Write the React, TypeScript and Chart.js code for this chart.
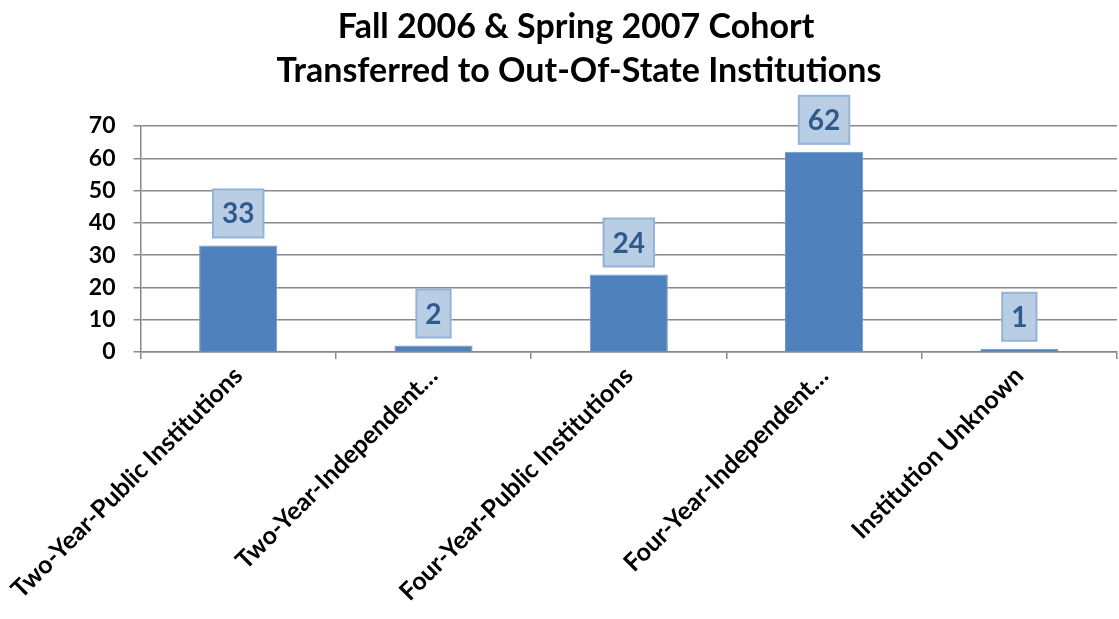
import React, { useEffect, useRef } from "react";
import { Chart, registerables } from "chart.js";

Chart.register(...registerables);

const titleLines = ["Fall 2006 & Spring 2007 Cohort", "Transferred to Out-Of-State Institutions"];
const categories = [
  "Two-Year-Public Institutions",
  "Two-Year-Independent…",
  "Four-Year-Public Institutions",
  "Four-Year-Independent…",
  "Institution Unknown",
];
const values = [33, 2, 24, 62, 1];
const yTicks = [0, 10, 20, 30, 40, 50, 60, 70];

const FONT = "Lato, 'Open Sans', sans-serif";

const titlePlugin = {
  id: "customTitle",
  afterDraw(chart: any) {
    const ctx = chart.ctx;
    ctx.save();
    ctx.font = `bold 34px ${FONT}`;
    ctx.fillStyle = "#000";
    ctx.textAlign = "center";
    ctx.textBaseline = "middle";
    ctx.fillText(titleLines[0], 576, 27);
    ctx.fillText(titleLines[1], 579, 71);
    ctx.restore();
  },
};

const labelPlugin = {
  id: "boxLabels",
  afterDatasetsDraw(chart: any) {
    const ctx = chart.ctx;
    const meta = chart.getDatasetMeta(0);
    ctx.save();
    ctx.font = `bold 28px ${FONT}`;
    meta.data.forEach((bar: any, i: number) => {
      const text = String(values[i]);
      const tw = ctx.measureText(text).width;
      const w = tw + 18;
      const h = 48;
      const x = bar.x - w / 2;
      const y = bar.y - 8 - h;
      ctx.fillStyle = "#b9cde5";
      ctx.fillRect(x, y, w, h);
      ctx.strokeStyle = "#95b3d7";
      ctx.lineWidth = 2;
      ctx.strokeRect(x, y, w, h);
      ctx.fillStyle = "#2f5a8c";
      ctx.textAlign = "center";
      ctx.textBaseline = "middle";
      ctx.fillText(text, bar.x, y + h / 2 + 1);
    });
    ctx.restore();
  },
};

export default function App() {
  const ref = useRef<HTMLCanvasElement>(null);
  useEffect(() => {
    document.body.style.margin = "0";
    const chart = new Chart(ref.current!, {
      type: "bar",
      data: {
        labels: categories,
        datasets: [
          {
            data: values,
            backgroundColor: "#4f81bd",
            borderColor: "#6f97c9",
            borderWidth: 1,
            categoryPercentage: 1,
            barPercentage: 0.4,
          },
        ],
      },
      options: {
        animation: false,
        responsive: false,
        layout: { padding: { top: 126, right: 2, left: 0, bottom: 0 } },
        plugins: { legend: { display: false }, tooltip: { enabled: false }, title: { display: false } },
        scales: {
          x: {
            offset: true,
            grid: { offset: true, drawOnChartArea: false, drawTicks: true, tickLength: 7, color: "#888", lineWidth: 1.5 },
            border: { color: "#888", width: 1.5 },
            ticks: {
              maxRotation: 45,
              minRotation: 45,
              autoSkip: false,
              padding: 2,
              color: "#000",
              font: { family: FONT, size: 25, weight: "bold" },
            },
            afterFit(scale: any) {
              scale.height = 267;
            },
          },
          y: {
            min: 0,
            max: 70,
            afterBuildTicks(scale: any) {
              scale.ticks = yTicks.map((v) => ({ value: v }));
            },
            grid: { color: "#888", lineWidth: 1.5, tickLength: 7 },
            border: { color: "#888", width: 1.5 },
            ticks: {
              padding: 18,
              color: "#000",
              font: { family: FONT, size: 23, weight: "bold" },
            },
            afterFit(scale: any) {
              scale.width = 139;
            },
          },
        },
      },
      plugins: [titlePlugin, labelPlugin],
    });
    return () => chart.destroy();
  }, []);
  return (
    <div style={{ position: "absolute", left: 0, top: 0, width: 1119, height: 619 }}>
      <canvas ref={ref} width={1119} height={619} style={{ width: 1119, height: 619 }} />
    </div>
  );
}
